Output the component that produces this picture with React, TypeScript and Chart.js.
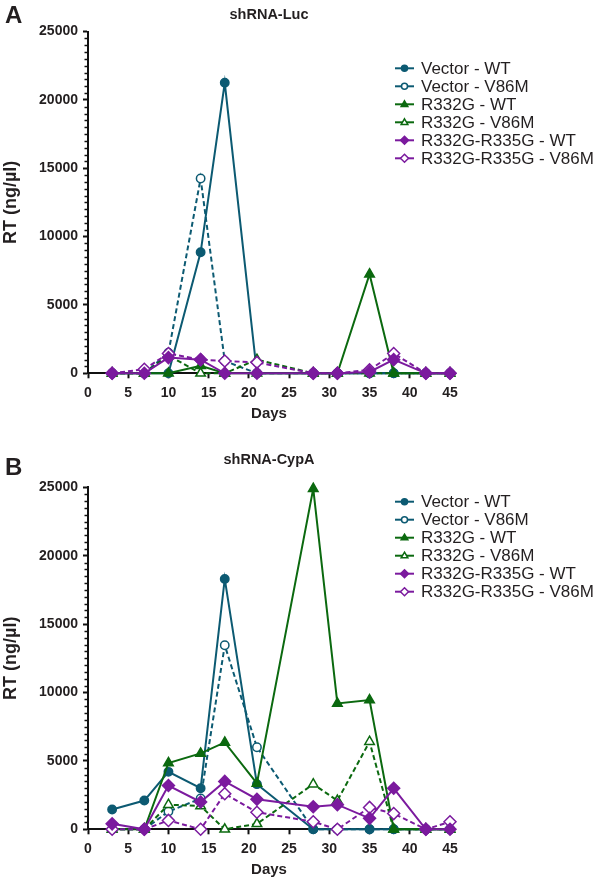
import React, { useEffect, useRef } from 'react';
import { Chart, registerables } from 'chart.js';

Chart.register(...registerables);

// ---------- data ----------
const DAYS = [3, 7, 10, 14, 17, 21, 28, 31, 35, 38, 42, 45];
const SERIES_LABELS = [
  'Vector - WT',
  'Vector - V86M',
  'R332G - WT',
  'R332G - V86M',
  'R332G-R335G - WT',
  'R332G-R335G - V86M',
];
const X_TICKS = [0, 5, 10, 15, 20, 25, 30, 35, 40, 45];
const Y_TICKS = [0, 5000, 10000, 15000, 20000, 25000];

// Panel A: shRNA-Luc
const LUC_VECTOR_WT = [0, 0, 0, 8850, 21250, 0, 0, 0, 0, 0, 0, 0];
const LUC_VECTOR_V86M = [0, 0, 1500, 14250, 900, 0, 0, 0, 0, 0, 0, 0];
const LUC_R332G_WT = [0, 0, 0, 550, 0, 0, 0, 0, 7250, 0, 0, 0];
const LUC_R332G_V86M = [0, 0, 1300, 0, 0, 1000, 0, 0, 0, 0, 0, 0];
const LUC_RR_WT = [0, 0, 1150, 1000, 0, 0, 0, 0, 100, 1000, 0, 0];
const LUC_RR_V86M = [0, 300, 1450, 1000, 900, 800, 0, 0, 250, 1450, 0, 0];

// Panel B: shRNA-CypA
const CYPA_VECTOR_WT = [1450, 2100, 4200, 3000, 18300, 3300, 0, 0, 0, 0, 0, 0];
const CYPA_VECTOR_V86M = [0, 0, 1300, 2250, 13450, 6000, 0, 0, 0, 0, 0, 0];
const CYPA_R332G_WT = [0, 0, 4850, 5550, 6350, 3350, 24900, 9200, 9450, 0, 0, 0];
const CYPA_R332G_V86M = [0, 0, 1800, 1700, 0, 400, 3300, 2100, 6400, 0, 0, 0];
const CYPA_RR_WT = [400, 0, 3200, 2000, 3500, 2200, 1650, 1800, 800, 3000, 0, 0];
const CYPA_RR_V86M = [0, 0, 650, 0, 2600, 1250, 550, 0, 1600, 1150, 0, 550];

// ---------- style ----------
const FONT = '"Liberation Sans", Arial, Helvetica, sans-serif';
const TEAL = '#0c5a72';
const GREEN = '#0b690f';
const PURPLE = '#7b1a9e';
const TEXT = '#231f20';
const AXIS = '#111111';

const STYLES = [
  { color: TEAL, dash: [], point: 'circle', filled: true, r: 4.2, lr: 3, order: 2 },
  { color: TEAL, dash: [5, 3], point: 'circle', filled: false, r: 4.2, lr: 3, order: 2 },
  { color: GREEN, dash: [], point: 'triangle', filled: true, r: 5.5, lr: 3.5, order: 1 },
  { color: GREEN, dash: [5, 3], point: 'triangle', filled: false, r: 5.5, lr: 3.5, order: 1 },
  { color: PURPLE, dash: [], point: 'rectRot', filled: true, r: 6, lr: 4, order: 0 },
  { color: PURPLE, dash: [5, 3], point: 'rectRot', filled: false, r: 6, lr: 4, order: 0 },
];

type PanelCfg = {
  letter: string;
  title: string;
  series: number[][];
  top: number;
  height: number;
  plotTop: number;
  plotBottom: number;
  titleY: number;
  letterY: number;
  legendY: number;
};

const PANELS: PanelCfg[] = [
  {
    letter: 'A',
    title: 'shRNA-Luc',
    series: [LUC_VECTOR_WT, LUC_VECTOR_V86M, LUC_R332G_WT, LUC_R332G_V86M, LUC_RR_WT, LUC_RR_V86M],
    top: 0,
    height: 438,
    plotTop: 31.5,
    plotBottom: 373.3,
    titleY: 15,
    letterY: 16,
    legendY: 68.3,
  },
  {
    letter: 'B',
    title: 'shRNA-CypA',
    series: [CYPA_VECTOR_WT, CYPA_VECTOR_V86M, CYPA_R332G_WT, CYPA_R332G_V86M, CYPA_RR_WT, CYPA_RR_V86M],
    top: 438,
    height: 439,
    plotTop: 49.3,
    plotBottom: 391.3,
    titleY: 22,
    letterY: 30,
    legendY: 63.7,
  },
];

const PLOT_LEFT = 88;
const PLOT_RIGHT = 450;
const X_AXIS_H = 50;

function drawMarker(ctx: CanvasRenderingContext2D, kind: string, x: number, y: number, r: number) {
  ctx.beginPath();
  if (kind === 'circle') {
    ctx.arc(x, y, r, 0, Math.PI * 2);
  } else if (kind === 'triangle') {
    ctx.moveTo(x, y - r);
    ctx.lineTo(x + r * 0.95, y + r * 0.6);
    ctx.lineTo(x - r * 0.95, y + r * 0.6);
  } else {
    ctx.moveTo(x, y - r);
    ctx.lineTo(x + r, y);
    ctx.lineTo(x, y + r);
    ctx.lineTo(x - r, y);
  }
  ctx.closePath();
}

function decorPlugin(p: PanelCfg) {
  return {
    id: 'decor',
    afterDraw(chart: any) {
      const { ctx, chartArea, scales } = chart;
      const ys = scales.y;
      ctx.save();
      // minor y ticks
      ctx.strokeStyle = AXIS;
      ctx.lineWidth = 1.5;
      for (let v = 500; v < 25000; v += 500) {
        if (v % 5000 === 0) continue;
        const py = Math.round(ys.getPixelForValue(v)) + 0.5;
        ctx.beginPath();
        ctx.moveTo(chartArea.left - 3.5, py);
        ctx.lineTo(chartArea.left, py);
        ctx.stroke();
      }
      // panel letter
      ctx.fillStyle = TEXT;
      ctx.textBaseline = 'middle';
      ctx.textAlign = 'left';
      ctx.font = `bold 24px ${FONT}`;
      ctx.fillText(p.letter, 5, p.letterY);
      // title
      ctx.textAlign = 'center';
      ctx.font = `bold 14.5px ${FONT}`;
      ctx.fillText(p.title, (chartArea.left + chartArea.right) / 2, p.titleY);
      // legend
      ctx.textAlign = 'left';
      ctx.font = `17px ${FONT}`;
      const lx0 = 395;
      const lx1 = 414;
      const lxText = 421;
      SERIES_LABELS.forEach((label, i) => {
        const s = STYLES[i];
        const ly = p.legendY + i * 18;
        ctx.strokeStyle = s.color;
        ctx.lineWidth = 2;
        ctx.setLineDash([]);
        ctx.beginPath();
        ctx.moveTo(lx0, ly);
        ctx.lineTo(lx1, ly);
        ctx.stroke();
        drawMarker(ctx, s.point, (lx0 + lx1) / 2, ly, s.lr);
        ctx.fillStyle = s.filled ? s.color : '#ffffff';
        ctx.fill();
        ctx.lineWidth = 1.5;
        ctx.stroke();
        ctx.fillStyle = TEXT;
        ctx.fillText(label, lxText, ly + 1);
      });
      ctx.restore();
    },
  };
}

function makeConfig(p: PanelCfg): any {
  const datasets = p.series.map((vals, i) => {
    const s = STYLES[i];
    return {
      label: SERIES_LABELS[i],
      data: DAYS.map((d, k) => ({ x: d, y: vals[k] })),
      borderColor: s.color,
      backgroundColor: s.color,
      borderWidth: 2,
      borderDash: s.dash,
      pointStyle: s.point,
      pointRadius: s.r,
      pointBorderWidth: 1.5,
      pointBorderColor: s.color,
      pointBackgroundColor: s.filled ? s.color : '#ffffff',
      fill: false,
      tension: 0,
      clip: false,
      order: s.order,
    };
  });
  return {
    type: 'line',
    data: { datasets },
    options: {
      responsive: false,
      maintainAspectRatio: false,
      animation: false,
      devicePixelRatio: 1,
      layout: {
        padding: {
          left: 0,
          right: 600 - PLOT_RIGHT,
          top: p.plotTop,
          bottom: p.height - p.plotBottom - X_AXIS_H,
        },
      },
      plugins: {
        legend: { display: false },
        title: { display: false },
        tooltip: { enabled: false },
      },
      scales: {
        x: {
          type: 'linear',
          min: 0,
          max: 45,
          afterBuildTicks: (scale: any) => {
            scale.ticks = X_TICKS.map((v) => ({ value: v }));
          },
          afterFit: (scale: any) => {
            scale.height = X_AXIS_H;
          },
          ticks: {
            color: TEXT,
            font: { family: FONT, size: 14, weight: 'bold' },
            padding: 6,
            maxRotation: 0,
            autoSkip: false,
          },
          grid: {
            display: true,
            drawOnChartArea: false,
            drawTicks: true,
            tickLength: 5,
            tickColor: AXIS,
            tickWidth: 2,
          },
          border: { display: true, color: AXIS, width: 2 },
          title: {
            display: true,
            text: 'Days',
            color: TEXT,
            font: { family: FONT, size: 15, weight: 'bold' },
            padding: 0,
          },
        },
        y: {
          type: 'linear',
          min: 0,
          max: 25000,
          afterBuildTicks: (scale: any) => {
            scale.ticks = Y_TICKS.map((v) => ({ value: v }));
          },
          afterFit: (scale: any) => {
            scale.width = PLOT_LEFT;
          },
          ticks: {
            color: TEXT,
            font: { family: FONT, size: 14, weight: 'bold' },
            padding: 5,
            autoSkip: false,
            callback: (v: any) => String(v),
          },
          grid: {
            display: true,
            drawOnChartArea: false,
            drawTicks: true,
            tickLength: 5,
            tickColor: AXIS,
            tickWidth: 2,
          },
          border: { display: true, color: AXIS, width: 2 },
          title: {
            display: true,
            text: 'RT (ng/µl)',
            color: TEXT,
            font: { family: FONT, size: 18, weight: 'bold' },
            padding: 0,
          },
        },
      },
    },
    plugins: [decorPlugin(p)],
  };
}

function Panel({ cfg }: { cfg: PanelCfg }) {
  const ref = useRef<HTMLCanvasElement>(null);
  useEffect(() => {
    const chart = new Chart(ref.current as HTMLCanvasElement, makeConfig(cfg));
    return () => chart.destroy();
  }, [cfg]);
  return (
    <canvas
      ref={ref}
      width={600}
      height={cfg.height}
      style={{ position: 'absolute', left: 0, top: cfg.top, width: 600, height: cfg.height }}
    />
  );
}

export default function App() {
  return (
    <div style={{ position: 'absolute', left: 0, top: 0, width: 600, height: 877, background: '#ffffff' }}>
      {PANELS.map((p) => (
        <Panel key={p.letter} cfg={p} />
      ))}
    </div>
  );
}
